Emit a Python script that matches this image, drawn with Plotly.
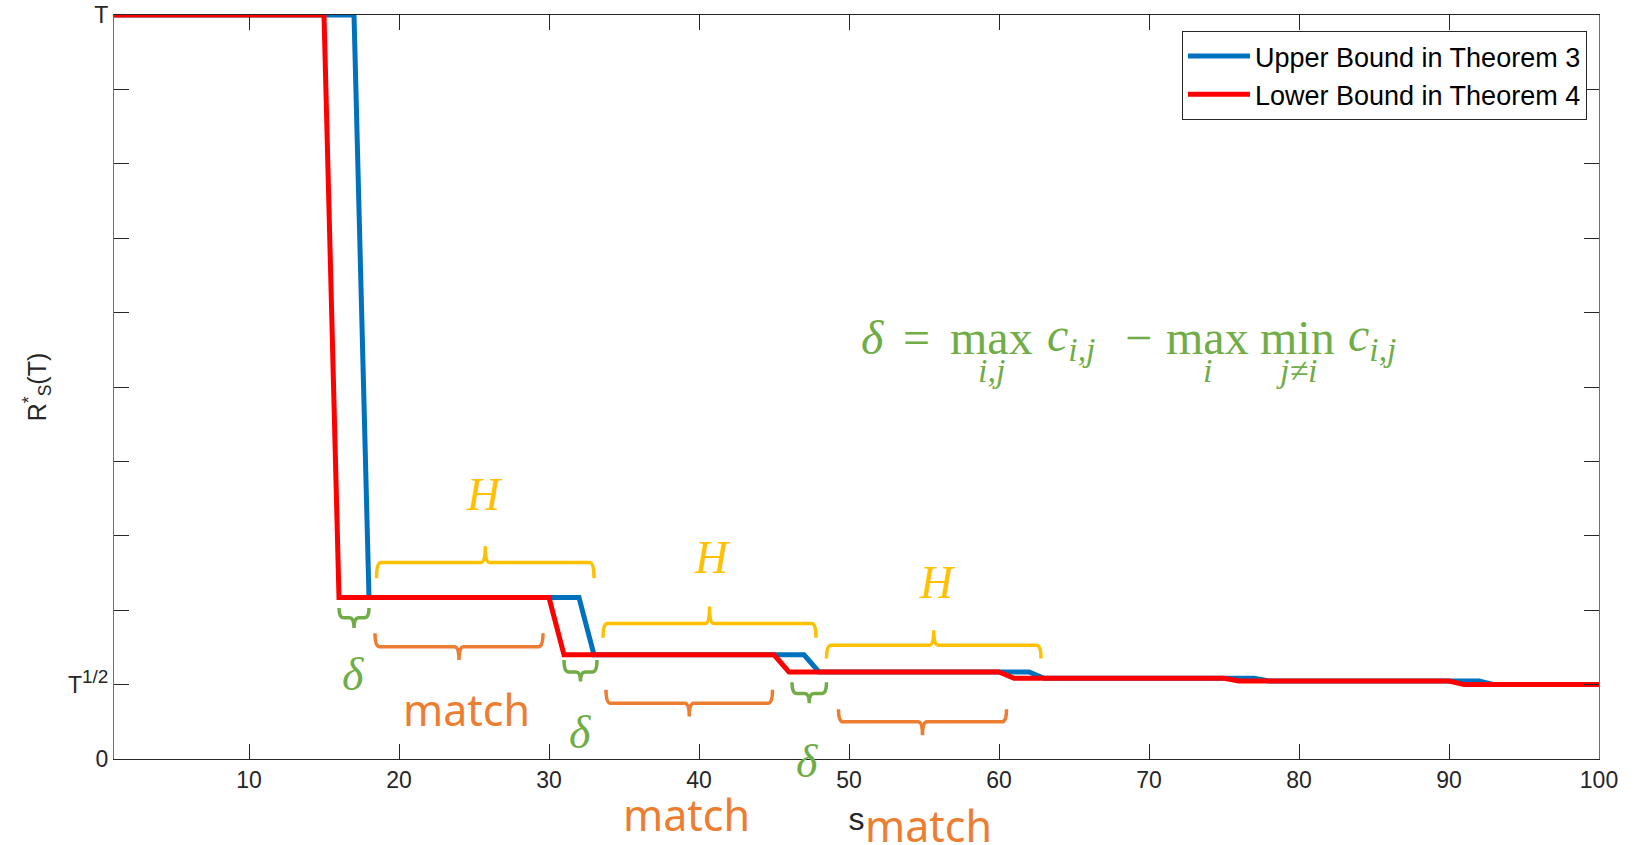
import plotly.graph_objects as go

# ---------------- data ----------------
upper_s = [1, 17, 18, 32, 33, 47, 48, 62, 63, 77, 78, 92, 93, 100]
upper_r = [10, 10, 2.17, 2.17, 1.40, 1.40, 1.17, 1.17, 1.085, 1.085, 1.048, 1.048, 1.0, 1.0]
lower_s = [1, 15, 16, 30, 31, 45, 46, 60, 61, 75, 76, 90, 91, 100]
lower_r = [10, 10, 2.17, 2.17, 1.40, 1.40, 1.17, 1.17, 1.085, 1.085, 1.048, 1.048, 1.0, 1.0]

Y_MIN, Y_MAX = 0, 10
x_ticks = [10, 20, 30, 40, 50, 60, 70, 80, 90, 100]
y_major = [0, 1, 10]
y_major_text = ["0", 'T<sup><span style="font-size:19px">1/2</span></sup>', "T"]
y_minor = [2, 3, 4, 5, 6, 7, 8, 9]

# braces: (x0, x1, y_ends, y_bar, y_tip)
green_braces = [(16, 18, 2.03, 1.90, 1.76), (31, 33.2, 1.33, 1.17, 1.04), (46.2, 48.5, 1.03, 0.88, 0.75)]
orange_braces = [(18.4, 29.6, 1.69, 1.51, 1.33), (33.8, 44.9, 0.93, 0.75, 0.57), (49.3, 60.5, 0.67, 0.50, 0.32)]
yellow_braces = [(18.5, 33, 2.43, 2.64, 2.86), (33.6, 47.8, 1.63, 1.82, 2.05), (48.5, 62.8, 1.35, 1.53, 1.73)]

delta_labels = [(16.93, 1.14), (32.07, 0.35), (47.23, -0.03)]
h_labels = [(25.67, 3.56), (40.91, 2.71), (55.9, 2.37)]
match_labels = [(24.47, 0.665), (39.17, -0.74), (55.33, -0.90)]

formula_main_y = 5.66
formula_main = [
    (51.57, "<i>δ</i>"), (54.53, "="), (59.47, "max"),
    (64.8, "<i>c</i><sub><i>i,j</i></sub>"), (69.33, "−"), (73.87, "max"),
    (79.93, "min"), (84.87, "<i>c</i><sub><i>i,j</i></sub>"),
]
formula_limits_y = 5.22
formula_limits = [(59.47, "<i>i,j</i>"), (73.87, "<i>i</i>"), (79.87, "<i>j≠i</i>")]

BLUE = "#0072BD"
RED = "#FF0000"
GREEN = "#70AD47"
ORANGE = "#ED7D31"
YELLOW = "#FFC000"
AX = "#262626"


def to_paper(y):
    return (y - Y_MIN) / (Y_MAX - Y_MIN)


fig = go.Figure()
fig.add_trace(go.Scatter(x=upper_s, y=upper_r, mode="lines", name="Upper Bound in Theorem 3",
                         line=dict(color=BLUE, width=5)))
fig.add_trace(go.Scatter(x=lower_s, y=lower_r, mode="lines", name="Lower Bound in Theorem 4",
                         line=dict(color=RED, width=5)))


def brace_path(x0, x1, ye, yb, yt, r=0.3):
    xm = (x0 + x1) / 2
    return (f"M {x0},{ye} Q {x0},{yb} {x0 + r},{yb} L {xm - r},{yb} "
            f"Q {xm},{yb} {xm},{yt} Q {xm},{yb} {xm + r},{yb} "
            f"L {x1 - r},{yb} Q {x1},{yb} {x1},{ye}")


for color, group in ((GREEN, green_braces), (ORANGE, orange_braces), (YELLOW, yellow_braces)):
    for b in group:
        fig.add_shape(type="path", path=brace_path(*b), xref="x", yref="y",
                      line=dict(color=color, width=3.5), layer="above")

serif = "Liberation Serif"


def label(x, y, text, font, size, color):
    fig.add_annotation(x=x, y=to_paper(y), xref="x", yref="paper", text=text,
                       showarrow=False, xanchor="center", yanchor="middle",
                       font=dict(family=font, size=size, color=color))


for x, y in delta_labels:
    label(x, y, "<i>δ</i>", serif, 46, GREEN)
for x, y in h_labels:
    label(x, y, "<i>H</i>", serif, 46, YELLOW)
for x, y in match_labels:
    label(x, y, "match", "Noto Sans", 43, ORANGE)
for x, t in formula_main:
    label(x, formula_main_y, t, serif, 48, GREEN)
for x, t in formula_limits:
    label(x, formula_limits_y, t, serif, 34, GREEN)

fig.update_layout(
    width=1636, height=845,
    margin=dict(l=114, r=37, t=15, b=86),
    paper_bgcolor="white", plot_bgcolor="white",
    font=dict(family="Liberation Sans", color=AX),
    showlegend=True,
    legend=dict(x=0.9919, y=0.9785, xanchor="right", yanchor="top",
                bgcolor="white", bordercolor=AX, borderwidth=1,
                font=dict(family="Liberation Sans", size=27, color="black"),
                itemwidth=62, tracegroupgap=0),
)
fig.update_xaxes(range=[1, 100], tickvals=x_ticks, ticks="inside", ticklen=15,
                 tickcolor=AX, showline=True, linecolor=AX, linewidth=1, mirror="ticks",
                 showgrid=False, zeroline=False, tickfont=dict(size=23, color=AX),
                 title=dict(text="s", font=dict(size=32, color=AX), standoff=16),
                 automargin=False)
fig.update_yaxes(range=[Y_MIN, Y_MAX], tickvals=y_major, ticktext=y_major_text, ticks="inside",
                 ticklen=15, tickcolor=AX, showline=True, linecolor="#6e6e6e", linewidth=1,
                 mirror="ticks", showgrid=False, zeroline=False,
                 minor=dict(tickvals=y_minor, ticks="inside", ticklen=15, tickcolor=AX),
                 tickfont=dict(size=23, color=AX),
                 title=dict(text="R<sup>*</sup><sub>S</sub>(T)", font=dict(size=25, color=AX),
                            standoff=14),
                 automargin=False)

fig.write_html("out.html")
